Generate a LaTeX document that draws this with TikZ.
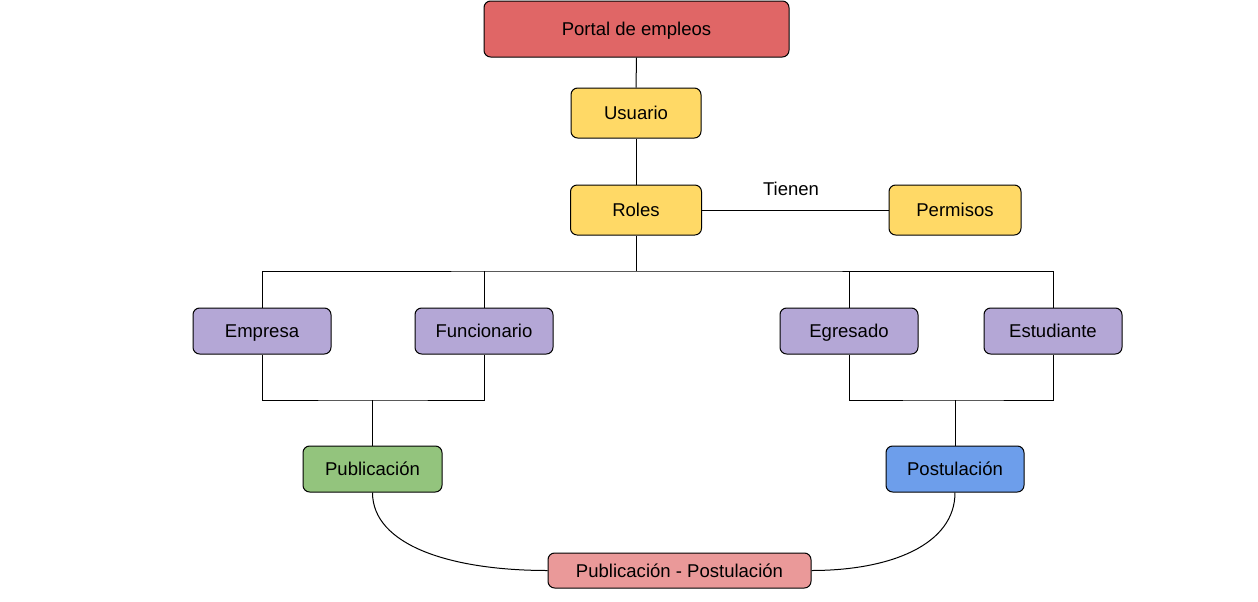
\documentclass[tikz,border=0pt]{standalone}
\usepackage{fontspec}
\setmainfont{Liberation Sans}
\definecolor{cred}{HTML}{E06666}
\definecolor{cyel}{HTML}{FFD966}
\definecolor{cpur}{HTML}{B4A7D6}
\definecolor{cgrn}{HTML}{93C47D}
\definecolor{cblu}{HTML}{6D9EEB}
\definecolor{cpnk}{HTML}{EA9999}
\tikzset{
  lbl/.style={font=\fontsize{13.9}{16}\selectfont, text height=11pt, text depth=1pt, inner sep=0pt},
  box/.style={lbl, draw=black, line width=0.75pt, rounded corners=5pt},
  conn/.style={draw=black, line width=0.75pt}
}
\begin{document}
\begin{tikzpicture}[x=0.75pt,y=-0.75pt]
\useasboundingbox (0,0) rectangle (1258,601);
\node[box, fill=cred, minimum width=305*0.75pt, minimum height=56*0.75pt] (portal) at (636.5,29) {Portal de empleos};
\node[box, fill=cyel, minimum width=130*0.75pt, minimum height=50*0.75pt] (usuario) at (636,113) {Usuario};
\node[box, fill=cyel, minimum width=131*0.75pt, minimum height=50*0.75pt] (roles) at (636,210) {Roles};
\node[box, fill=cyel, minimum width=132*0.75pt, minimum height=50*0.75pt] (permisos) at (955,210) {Permisos};
\node[lbl] (tienen) at (791,189) {Tienen};
\node[box, fill=cpur, minimum width=138*0.75pt, minimum height=46*0.75pt] (empresa) at (262,331) {Empresa};
\node[box, fill=cpur, minimum width=138*0.75pt, minimum height=46*0.75pt] (funcionario) at (484,331) {Funcionario};
\node[box, fill=cpur, minimum width=138*0.75pt, minimum height=46*0.75pt] (egresado) at (849,331) {Egresado};
\node[box, fill=cpur, minimum width=138*0.75pt, minimum height=46*0.75pt] (estudiante) at (1053,331) {Estudiante};
\node[box, fill=cgrn, minimum width=139*0.75pt, minimum height=46*0.75pt] (publicacion) at (372.5,469) {Publicación};
\node[box, fill=cblu, minimum width=138*0.75pt, minimum height=46*0.75pt] (postulacion) at (955,469) {Postulación};
\node[box, fill=cpnk, minimum width=263*0.75pt, minimum height=35*0.75pt] (pp) at (679.5,570.5) {Publicación - Postulación};
\coordinate (rb) at (636,271);
\coordinate (lb) at (372.5,400);
\coordinate (rb2) at (955,400);
\draw[conn] (portal.south) -- (usuario.north);
\draw[conn] (usuario.south) -- (roles.north);
\draw[conn] (roles.east) -- (permisos.west);
\draw[conn] (roles.south) -- (rb);
\draw[conn] (empresa.north) |- (rb) -| (estudiante.north);
\draw[conn] (funcionario.north) -- (funcionario.north |- rb);
\draw[conn] (egresado.north) -- (egresado.north |- rb);
\draw[conn] (empresa.south) |- (lb) -| (funcionario.south);
\draw[conn] (lb) -- (publicacion.north);
\draw[conn] (egresado.south) |- (rb2) -| (estudiante.south);
\draw[conn] (rb2) -- (postulacion.north);
\draw[conn] (publicacion.south) .. controls (372.5,545) and (450,570.5) .. (pp.west);
\draw[conn] (postulacion.south) .. controls (955,545) and (890,570.5) .. (pp.east);
\end{tikzpicture}
\end{document}
